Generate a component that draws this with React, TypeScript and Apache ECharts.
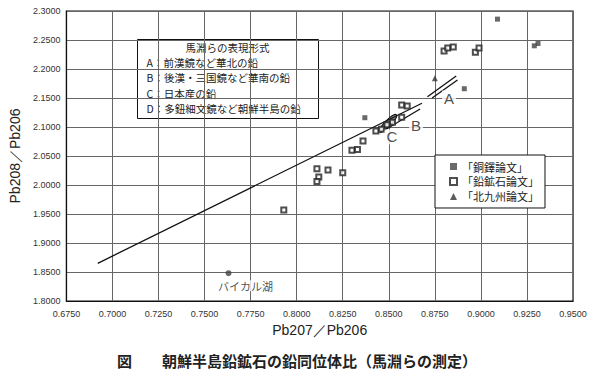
import React, { useEffect, useRef } from "react";
import * as echarts from "echarts";

// ---- data ----
const xTicks = { min: 0.675, max: 0.95, interval: 0.025 };
const yTicks = { min: 1.8, max: 2.3, interval: 0.05 };

const dotakuPoints: number[][] = [
  [0.909, 2.286], [0.929, 2.240], [0.931, 2.244], [0.891, 2.166], [0.837, 2.116],
];
const oreStudyPoints: number[][] = [
  [0.880, 2.231], [0.882, 2.236], [0.885, 2.238], [0.897, 2.229], [0.899, 2.236],
  [0.857, 2.138], [0.860, 2.136], [0.857, 2.117], [0.852, 2.108], [0.849, 2.104],
  [0.843, 2.093], [0.846, 2.096], [0.836, 2.076], [0.830, 2.060], [0.833, 2.061],
  [0.811, 2.028], [0.817, 2.026], [0.825, 2.021], [0.812, 2.014], [0.811, 2.006],
  [0.793, 1.957],
];
const kitakyushuPoints: number[][] = [[0.875, 2.184]];
const baikalPoint: number[][] = [[0.763, 1.848]];

const lineD: number[][] = [[0.692, 1.865], [0.868, 2.141]];
const lineB: number[][] = [[0.8453, 2.090], [0.867, 2.131]];
const lineA1: number[][] = [[0.871, 2.152], [0.8866, 2.188]];
const lineA2: number[][] = [[0.8735, 2.150], [0.8873, 2.181]];
const ellipseC = { center: [0.8497, 2.107], rx: 0.0045, ry: 0.006 };

const annotationLabels = [
  { name: "A", value: [0.8827, 2.150] },
  { name: "B", value: [0.8648, 2.102] },
  { name: "C", value: [0.8517, 2.083] },
];

const seriesNames = ["「銅鐸論文」", "「鉛鉱石論文」", "「北九州論文」"];
const boxTitle = "馬淵らの表現形式";
const boxLines = [
  "A：前漢鏡など華北の鉛",
  "B：後漢・三国鏡など華南の鉛",
  "C：日本産の鉛",
  "D：多鈕細文鏡など朝鮮半島の鉛",
];
const baikalName = "バイカル湖";
const xAxisName = "Pb207／Pb206";
const yAxisName = "Pb208／Pb206";
const caption = "図　　朝鮮半島鉛鉱石の鉛同位体比（馬淵らの測定）";

const JP = "'Noto Sans CJK JP', sans-serif";
const SANS = "'Liberation Sans', Arial, sans-serif";

export default function App() {
  const ref = useRef<HTMLDivElement>(null);
  useEffect(() => {
    if (!ref.current) return;
    const chart = echarts.init(ref.current, undefined, { renderer: "svg" });
    const lineStyle = { color: "#111", width: 1.3 };
    const mkLine = (d: number[][]) => ({
      type: "line",
      data: d,
      symbol: "none",
      lineStyle,
      silent: true,
      z: 3,
    });
    chart.setOption({
      animation: false,
      backgroundColor: "#fff",
      title: {
        text: caption,
        left: 112,
        top: 348,
        textStyle: { fontFamily: JP, fontSize: 15, fontWeight: "bold", color: "#222" },
      },
      grid: {
        left: 66, right: 27, top: 11, bottom: 86,
        show: true, borderColor: "#111", borderWidth: 1.2, backgroundColor: "transparent",
      },
      xAxis: {
        type: "value",
        min: xTicks.min, max: xTicks.max, interval: xTicks.interval,
        name: xAxisName, nameLocation: "middle", nameGap: 19,
        nameTextStyle: { fontFamily: SANS, fontSize: 14, color: "#222" },
        axisLine: { show: true, lineStyle: { color: "#111", width: 1.2 } },
        axisTick: { show: false },
        axisLabel: {
          fontFamily: SANS, fontSize: 9, color: "#333", margin: 8,
          formatter: (v: number) => v.toFixed(4),
        },
        splitLine: { show: true, lineStyle: { color: "#666", width: 1 } },
      },
      yAxis: {
        type: "value",
        min: yTicks.min, max: yTicks.max, interval: yTicks.interval,
        name: yAxisName, nameLocation: "middle", nameGap: 38, nameRotate: 90,
        nameTextStyle: { fontFamily: SANS, fontSize: 14, color: "#222" },
        axisLine: { show: true, lineStyle: { color: "#111", width: 1.2 } },
        axisTick: { show: false },
        axisLabel: {
          fontFamily: SANS, fontSize: 9, color: "#333", margin: 6,
          formatter: (v: number) => v.toFixed(4),
        },
        splitLine: { show: true, lineStyle: { color: "#666", width: 1 } },
      },
      legend: {
        data: seriesNames,
        orient: "vertical",
        left: 435, top: 155,
        padding: [6, 6, 6, 14],
        itemGap: 4,
        itemWidth: 7, itemHeight: 7,
        borderColor: "#111", borderWidth: 1,
        backgroundColor: "#fff",
        textStyle: { fontFamily: JP, fontSize: 11, color: "#222" },
      },
      graphic: [
        {
          type: "group",
          left: 137, top: 39,
          children: [
            { type: "rect", shape: { x: 0, y: 0, width: 181, height: 79 },
              style: { fill: "#fff", stroke: "#111", lineWidth: 1 } },
            { type: "text", x: 90, y: 2,
              style: { text: boxTitle, fontFamily: JP, fontSize: 10.5, lineHeight: 12,
                fill: "#222", align: "center", verticalAlign: "top" } },
            ...boxLines.map((t, i) => ({
              type: "text", x: 9, y: 17.2 + i * 15.2,
              style: { text: t, fontFamily: JP, fontSize: 10.5, lineHeight: 12,
                fill: "#222", verticalAlign: "top" },
            })),
          ],
        },
      ],
      series: [
        {
          name: seriesNames[0], type: "scatter", data: dotakuPoints,
          symbol: "rect", symbolSize: 5, itemStyle: { color: "#444" }, z: 4,
        },
        {
          name: seriesNames[1], type: "scatter", data: oreStudyPoints,
          symbol: "emptyRect", symbolSize: 5,
          itemStyle: { color: "#222", borderColor: "#222", borderWidth: 0.9 }, z: 4,
        },
        {
          name: seriesNames[2], type: "scatter", data: kitakyushuPoints,
          symbol: "triangle", symbolSize: 6, itemStyle: { color: "#333" }, z: 4,
        },
        {
          name: baikalName, type: "scatter", data: baikalPoint,
          symbol: "circle", symbolSize: 6, itemStyle: { color: "#444" }, z: 4,
          label: {
            show: true, position: "bottom", distance: 4, offset: [17, 0],
            formatter: baikalName, fontFamily: JP, fontSize: 11, color: "#222",
            backgroundColor: "#fff",
          },
        },
        mkLine(lineD),
        mkLine(lineB),
        mkLine(lineA1),
        mkLine(lineA2),
        {
          type: "custom",
          data: [ellipseC.center],
          silent: true,
          z: 3,
          renderItem: (params: any, api: any) => {
            const c = api.coord([api.value(0), api.value(1)]);
            const e = api.coord([ellipseC.center[0] + ellipseC.rx, ellipseC.center[1]]);
            const rx = Math.abs(e[0] - c[0]) * 1.4;
            return {
              type: "ellipse",
              x: c[0], y: c[1],
              rotation: Math.atan(1.0),
              shape: { cx: 0, cy: 0, rx, ry: 3 },
              style: { fill: "#888", stroke: "#111", lineWidth: 1 },
            };
          },
        },
        {
          type: "scatter",
          data: annotationLabels,
          symbolSize: 0,
          silent: true,
          z: 5,
          label: {
            show: true, position: "inside", formatter: "{b}",
            fontFamily: SANS, fontSize: 15, color: "#222",
            backgroundColor: "#fff", padding: [0, 2],
          },
        },
      ],
    });
    return () => chart.dispose();
  }, []);
  return <div ref={ref} style={{ width: 600, height: 387, position: "absolute", left: 0, top: 0 }} />;
}
